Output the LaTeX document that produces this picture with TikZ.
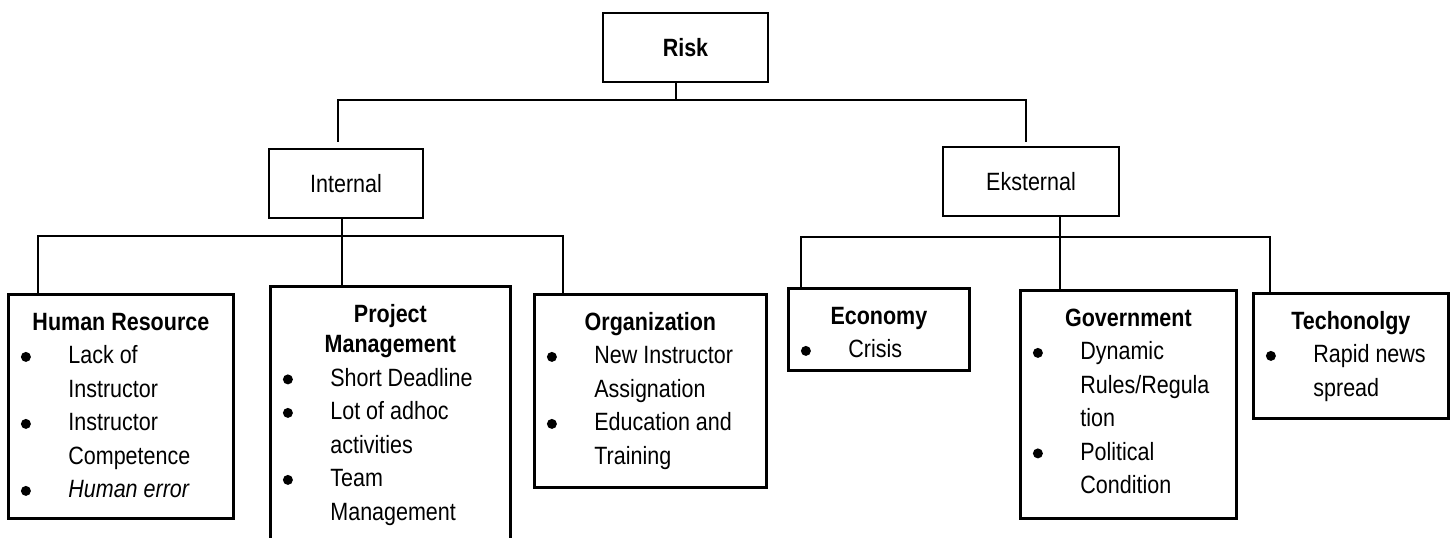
\documentclass[tikz,border=0pt]{standalone}
\usepackage{fontspec}
\setmainfont{Liberation Sans}[FakeStretch=0.86]

\newcommand{\dotmark}{\tikz[baseline=-3.5pt]\fill (0,0) circle (2.5pt);}
\newcommand{\bul}{\par\hspace*{6.25pt}\makebox[23.75pt][l]{\dotmark}}
\newcommand{\nxt}{\par\hspace*{30pt}}
\newcommand{\cat}[4]{\parbox[t][#2][t]{#1}{\centering\rule{0pt}{18pt}\textbf{#3}\par\raggedright #4}}

\begin{document}
\begin{tikzpicture}[x=0.5pt,y=-0.5pt,font=\fontsize{12.5pt}{16.75pt}\selectfont,
  box/.style={draw,line width=1.4pt,inner sep=0pt},
  catbox/.style={box,anchor=north west},
  wire/.style={line width=1.1pt}]
\useasboundingbox (0,0) rectangle (1453,537);
\clip (0,0) rectangle (1453,537);

% top levels
\node[box,minimum width=82.5pt,minimum height=34.5pt] (risk) at (685.5,47.5) {\textbf{Risk}};
\node[box,minimum width=77pt,minimum height=34.5pt] (int) at (346,183.5) {Internal};
\node[box,minimum width=88pt,minimum height=34.5pt] (eks) at (1031,181.5) {Eksternal};

% internal risks
\node[catbox] (hr) at (7,293) {\cat{112.5pt}{112pt}{Human Resource}{%
  \bul Lack of \nxt Instructor \bul Instructor \nxt Competence \bul \textit{Human error}}};
\node[catbox] (pm) at (269,285) {\cat{120pt}{137.5pt}{Project\\[-1.5pt]Management}{%
  \bul Short Deadline \bul Lot of adhoc \nxt activities \bul Team \nxt Management}};
\node[catbox] (org) at (533,293) {\cat{116pt}{96.5pt}{Organization}{%
  \bul New Instructor \nxt Assignation \bul Education and \nxt Training}};

% external risks
\node[catbox] (econ) at (787,287) {\cat{90.5pt}{41pt}{Economy}{\bul Crisis}};
\node[catbox] (gov) at (1019,289) {\cat{108pt}{114pt}{Government}{%
  \bul Dynamic \nxt Rules/Regula \nxt tion \bul Political \nxt Condition}};
\node[catbox] (tech) at (1252,292) {\cat{97.5pt}{62.5pt}{Techonolgy}{%
  \bul Rapid news \nxt spread}};

% connectors
\coordinate (rst) at (676,100);
\coordinate (tl) at (338,100);
\coordinate (tr) at (1026,100);
\draw[wire] (risk.south -| rst) -- (rst);
\draw[wire,shorten <=3pt,shorten >=2pt] (int.north -| tl) -- (tl) -- (tr) -- (eks.north -| tr);

\coordinate (ll) at (38,236);
\coordinate (lr) at (563,236);
\coordinate (lst) at (342,236);
\draw[wire] (hr.north -| ll) -- (ll) -- (lr) -- (org.north -| lr);
\draw[wire] (int.south -| lst) -- (pm.north -| lst);

\coordinate (rl) at (801,237);
\coordinate (rr) at (1270,237);
\coordinate (est) at (1060,237);
\draw[wire] (econ.north -| rl) -- (rl) -- (rr) -- (tech.north -| rr);
\draw[wire] (eks.south -| est) -- (gov.north -| est);

\end{tikzpicture}
\end{document}
